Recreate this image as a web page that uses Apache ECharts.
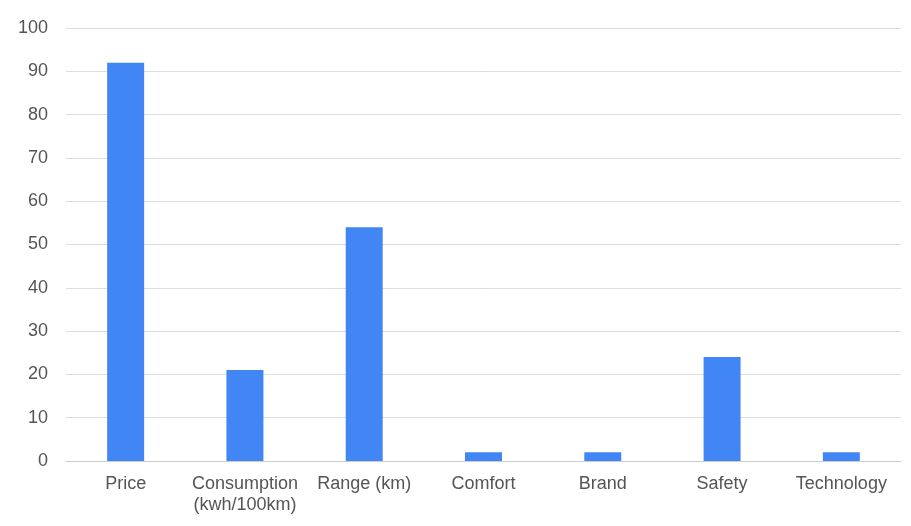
<!DOCTYPE html>
<html>
<head>
<meta charset="utf-8">
<style>
  html, body { margin: 0; padding: 0; background: #ffffff; }
  #chart { width: 911px; height: 526px; }
</style>
<script src="https://cdn.jsdelivr.net/npm/echarts@6/dist/echarts.min.js"></script>
</head>
<body>
<div id="chart"></div>
<script>
// Survey factors and how many respondents named each one
const categories = ['Price', 'Consumption\n(kwh/100km)', 'Range (km)', 'Comfort', 'Brand', 'Safety', 'Technology'];
const counts = [92, 21, 54, 2, 2, 24, 2];
const yTicks = { min: 0, max: 100, interval: 10 };

const textColor = '#555555';
const fontFamily = '"Liberation Sans", Arial, sans-serif';

const chart = echarts.init(document.getElementById('chart'), null, { renderer: 'canvas' });
chart.setOption({
  animation: false,
  grid: { left: 66, right: 10, top: 28, bottom: 65, containLabel: false },
  xAxis: {
    type: 'category',
    data: categories,
    axisTick: { show: false },
    axisLine: { show: true, lineStyle: { color: '#cccccc', width: 1 } },
    axisLabel: {
      color: textColor,
      fontFamily: fontFamily,
      fontSize: 18,
      lineHeight: 21,
      margin: 13,
      interval: 0
    }
  },
  yAxis: {
    type: 'value',
    min: yTicks.min,
    max: yTicks.max,
    interval: yTicks.interval,
    axisLine: { show: false },
    axisTick: { show: false },
    splitLine: { lineStyle: { color: '#dddddd', width: 1 } },
    axisLabel: {
      color: textColor,
      fontFamily: fontFamily,
      fontSize: 18,
      margin: 18
    }
  },
  series: [{
    type: 'bar',
    data: counts,
    barWidth: '31%',
    itemStyle: { color: '#4285F4' }
  }]
});
</script>
</body>
</html>
